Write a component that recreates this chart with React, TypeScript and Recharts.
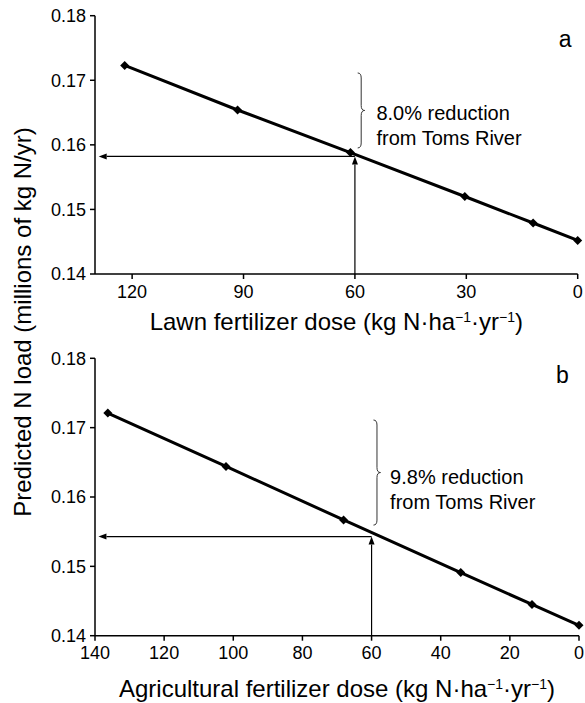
import React from 'react';
import { LineChart, Line, XAxis, YAxis, ReferenceLine, ReferenceDot } from 'recharts';

const FONT = '"Liberation Sans", Arial, Helvetica, sans-serif';

// panel a: lawn fertilizer
const lawnDose = [122, 91.6, 61.2, 30.4, 12, 0];
const lawnLoad = [0.1723, 0.1654, 0.1588, 0.152, 0.1479, 0.1452];
const lawnTicks = [0, 30, 60, 90, 120];
const lawnTarget = { dose: 60, load: 0.1582 };

// panel b: agricultural fertilizer
const agDose = [136.3, 102.1, 68.1, 34.2, 13.6, 0];
const agLoad = [0.1721, 0.1644, 0.1567, 0.1491, 0.1445, 0.1415];
const agTicks = [0, 20, 40, 60, 80, 100, 120, 140];
const agTarget = { dose: 60, load: 0.1543 };

const loadTicks = [0.14, 0.15, 0.16, 0.17, 0.18];

const lawnData = lawnDose.map((d, i) => ({ dose: d, load: lawnLoad[i] }));
const agData = agDose.map((d, i) => ({ dose: d, load: agLoad[i] }));

const Diamond = (props: any) => {
  const { cx, cy } = props;
  if (cx == null || cy == null) return null;
  const s = 4.5;
  return (
    <polygon
      points={`${cx},${cy - s} ${cx + s},${cy} ${cx},${cy + s} ${cx - s},${cy}`}
      fill="#000"
    />
  );
};

// arrow from first point to second, head at second
const arrowShape = (props: any) => {
  const { x1, y1, x2, y2 } = props;
  const dx = x2 - x1;
  const dy = y2 - y1;
  const len = Math.hypot(dx, dy) || 1;
  const ux = dx / len;
  const uy = dy / len;
  const L = 8;
  const W = 3;
  const bx = x2 - ux * L;
  const by = y2 - uy * L;
  return (
    <g>
      <line x1={x1} y1={y1} x2={bx} y2={by} stroke="#000" strokeWidth={1.2} />
      <polygon
        points={`${x2},${y2} ${bx - uy * W},${by + ux * W} ${bx + uy * W},${by - ux * W}`}
        fill="#000"
      />
    </g>
  );
};

const braceShape = (props: any) => {
  const { x1, y1, y2 } = props;
  const top = Math.min(y1, y2);
  const bot = Math.max(y1, y2);
  const ym = (top + bot) / 2;
  const w = 7;
  const h = w / 2;
  const r = 5;
  const d =
    `M${x1},${top} Q${x1 + h},${top} ${x1 + h},${top + r} L${x1 + h},${ym - r} ` +
    `Q${x1 + h},${ym} ${x1 + w},${ym} Q${x1 + h},${ym} ${x1 + h},${ym + r} ` +
    `L${x1 + h},${bot - r} Q${x1 + h},${bot} ${x1},${bot}`;
  return <path d={d} fill="none" stroke="#333" strokeWidth={1} />;
};

const noteShape = (lines: string[]) => (props: any) => {
  const { cx, cy } = props;
  return (
    <text x={cx} y={cy} fontFamily={FONT} fontSize={20} fill="#000">
      {lines.map((l, i) => (
        <tspan key={i} x={cx} dy={i === 0 ? 7 : 25}>
          {l}
        </tspan>
      ))}
    </text>
  );
};

const letterShape = (letter: string) => (props: any) => {
  const { cx, cy } = props;
  return (
    <text x={cx} y={cy + 7} fontFamily={FONT} fontSize={23} fill="#000" textAnchor="middle">
      {letter}
    </text>
  );
};

const axisTitle = (main: string, dyBase: number) => (props: any) => {
  const { viewBox } = props;
  const x = viewBox.x + viewBox.width / 2;
  const y = viewBox.y + dyBase;
  return (
    <text x={x} y={y} fontFamily={FONT} fontSize={24} fill="#000" textAnchor="middle">
      <tspan>{main} (kg N·ha</tspan>
      <tspan dy={-8} fontSize={14}>−1</tspan>
      <tspan dy={8}>·yr</tspan>
      <tspan dy={-8} fontSize={14}>−1</tspan>
      <tspan dy={8}>)</tspan>
    </text>
  );
};

const tickStyle = { fontFamily: FONT, fontSize: 18, fill: '#000' };
const axisLine = { stroke: '#000', strokeWidth: 1.5 };
const tickLine = { stroke: '#000', strokeWidth: 1.5 };

export default function App() {
  return (
    <div style={{ position: 'absolute', left: 0, top: 0, width: 585, height: 703, background: '#fff' }}>
      <div style={{ position: 'absolute', left: 0, top: 0 }}>
        <LineChart width={585} height={340} data={lawnData} margin={{ top: 15.7, right: 7.3, bottom: 16, left: 35 }}>
          <XAxis
            dataKey="dose"
            type="number"
            domain={[0, 130]}
            reversed
            ticks={lawnTicks}
            interval={0}
            tick={tickStyle}
            tickSize={5}
            tickMargin={6}
            axisLine={axisLine}
            tickLine={tickLine}
            height={50}
            label={{ content: axisTitle('Lawn fertilizer dose', 56) }}
          />
          <YAxis
            type="number"
            domain={[0.14, 0.18]}
            ticks={loadTicks}
            interval={0}
            tickFormatter={(v: number) => v.toFixed(2)}
            tick={tickStyle}
            tickSize={5}
            tickMargin={4}
            axisLine={axisLine}
            tickLine={tickLine}
            width={60}
          />
          <ReferenceLine
            segment={[{ x: lawnTarget.dose, y: lawnTarget.load }, { x: 129, y: lawnTarget.load }]}
            shape={arrowShape}
          />
          <ReferenceLine
            segment={[{ x: lawnTarget.dose, y: 0.14 }, { x: lawnTarget.dose, y: lawnTarget.load }]}
            shape={arrowShape}
          />
          <ReferenceLine segment={[{ x: 59.25, y: 0.17113 }, { x: 59.25, y: 0.15952 }]} shape={braceShape} />
          <ReferenceDot x={54.2} y={0.16494} r={0} shape={noteShape(['8.0% reduction', 'from Toms River'])} />
          <ReferenceDot x={3.4} y={0.1762} r={0} shape={letterShape('a')} />
          <Line
            dataKey="load"
            stroke="#000"
            strokeWidth={3}
            dot={<Diamond />}
            activeDot={false}
            isAnimationActive={false}
          />
        </LineChart>
      </div>
      <div style={{ position: 'absolute', left: 0, top: 340 }}>
        <LineChart width={585} height={363} data={agData} margin={{ top: 18.3, right: 6, bottom: 17.3, left: 35 }}>
          <XAxis
            dataKey="dose"
            type="number"
            domain={[0, 140]}
            reversed
            ticks={agTicks}
            interval={0}
            tick={tickStyle}
            tickSize={5}
            tickMargin={6}
            axisLine={axisLine}
            tickLine={tickLine}
            height={50}
            label={{ content: axisTitle('Agricultural fertilizer dose', 61) }}
          />
          <YAxis
            type="number"
            domain={[0.14, 0.18]}
            ticks={loadTicks}
            interval={0}
            tickFormatter={(v: number) => v.toFixed(2)}
            tick={tickStyle}
            tickSize={5}
            tickMargin={4}
            axisLine={axisLine}
            tickLine={tickLine}
            width={60}
          />
          <ReferenceLine
            segment={[{ x: agTarget.dose, y: agTarget.load }, { x: 139, y: agTarget.load }]}
            shape={arrowShape}
          />
          <ReferenceLine
            segment={[{ x: agTarget.dose, y: 0.14 }, { x: agTarget.dose, y: agTarget.load }]}
            shape={arrowShape}
          />
          <ReferenceLine segment={[{ x: 59.45, y: 0.1711 }, { x: 59.45, y: 0.15595 }]} shape={braceShape} />
          <ReferenceDot x={54.64} y={0.16294} r={0} shape={noteShape(['9.8% reduction', 'from Toms River'])} />
          <ReferenceDot x={4.8} y={0.1775} r={0} shape={letterShape('b')} />
          <Line
            dataKey="load"
            stroke="#000"
            strokeWidth={3}
            dot={<Diamond />}
            activeDot={false}
            isAnimationActive={false}
          />
        </LineChart>
      </div>
      <svg width={60} height={703} style={{ position: 'absolute', left: 0, top: 0 }}>
        <text
          transform="translate(31, 322) rotate(-90)"
          fontFamily={FONT}
          fontSize={24}
          fill="#000"
          textAnchor="middle"
        >
          Predicted N load (millions of kg N/yr)
        </text>
      </svg>
    </div>
  );
}
